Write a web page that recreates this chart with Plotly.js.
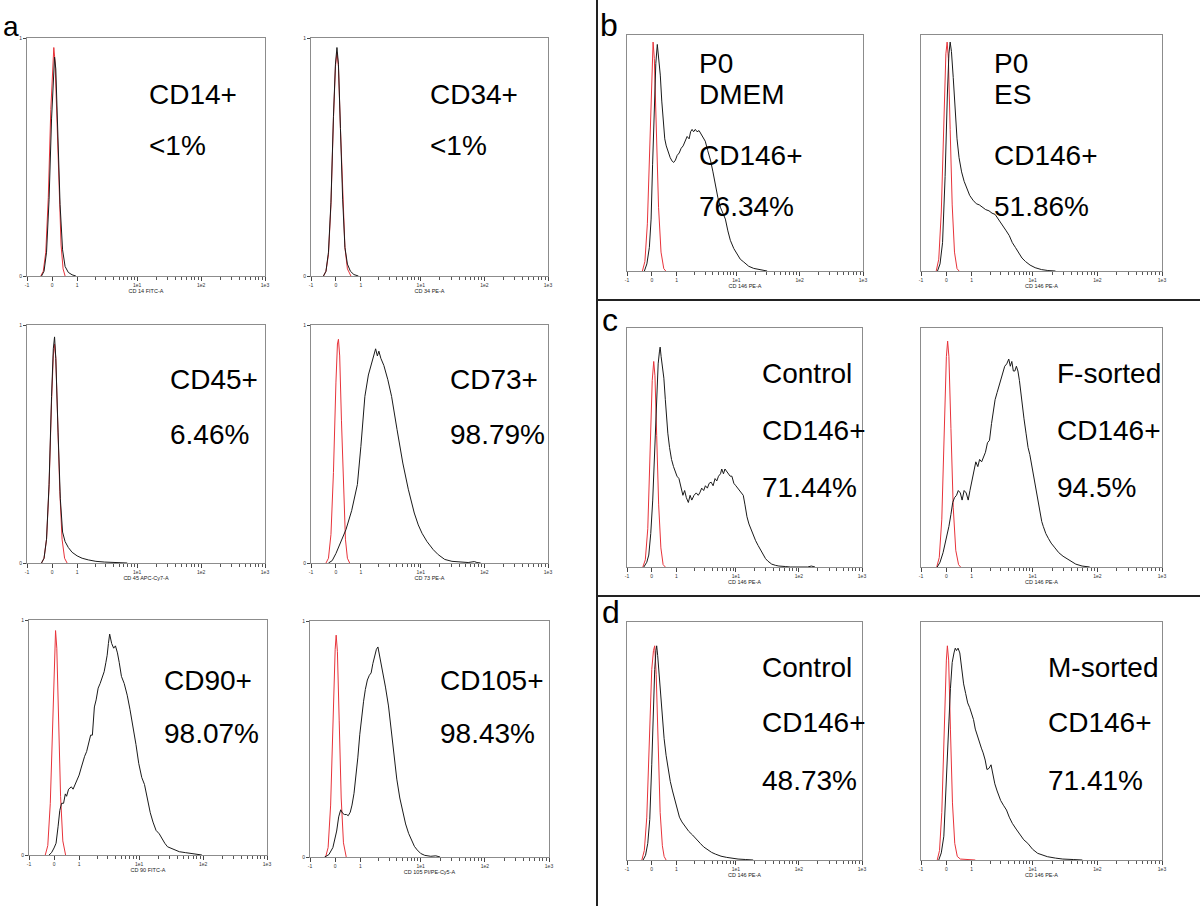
<!DOCTYPE html>
<html>
<head>
<meta charset="utf-8">
<script src="https://cdn.plot.ly/plotly-3.0.1.min.js"></script>
<style>html,body{margin:0;padding:0;background:#fff;}#chart{width:1200px;height:906px;}</style>
</head>
<body>
<div id="chart"></div>
<script>
// ---- Axis ticks (biexponential display scale) ----
const tickLabels = ['-1', '0', '1', '1e1', '1e2', '1e3'];
const tickPos = [-1, 0, 1, 3.4, 5.95, 8.5];
const xRange = [-1, 8.5];

// ---- Panel labels ----
const panelTitles = ['CD 14 FITC-A', 'CD 34 PE-A', 'CD 45 APC-Cy7-A', 'CD 73 PE-A', 'CD 90 FITC-A', 'CD 105 PI/PE-Cy5-A',
  'CD 146 PE-A', 'CD 146 PE-A', 'CD 146 PE-A', 'CD 146 PE-A', 'CD 146 PE-A', 'CD 146 PE-A'];
const panelText = [
  ['CD14+', '<1%'], ['CD34+', '<1%'], ['CD45+', '6.46%'], ['CD73+', '98.79%'], ['CD90+', '98.07%'], ['CD105+', '98.43%'],
  ['P0', 'DMEM', 'CD146+', '76.34%'], ['P0', 'ES', 'CD146+', '51.86%'],
  ['Control', 'CD146+', '71.44%'], ['F-sorted', 'CD146+', '94.5%'],
  ['Control', 'CD146+', '48.73%'], ['M-sorted', 'CD146+', '71.41%']
];
const sectionLetters = ['a', 'b', 'c', 'd'];

// ---- Histogram data: [display position, normalized count] ----
const CD14_iso = [[-0.45,0],[-0.35,0.02],[-0.25,0.1],[-0.15,0.33],[-0.05,0.7],[0.02,0.9],[0.07,0.96],[0.12,0.9],[0.2,0.64],[0.28,0.34],[0.36,0.13],[0.44,0.03],[0.52,0]];
const CD14_stain = [[-0.42,0],[-0.32,0.02],[-0.22,0.1],[-0.12,0.32],[-0.02,0.66],[0.05,0.86],[0.1,0.92],[0.15,0.87],[0.23,0.6],[0.32,0.3],[0.42,0.11],[0.52,0.04],[0.65,0.015],[0.8,0.005],[0.95,0]];

const CD34_iso = [[-0.5,0],[-0.4,0.02],[-0.3,0.09],[-0.2,0.3],[-0.1,0.66],[-0.02,0.88],[0.04,0.94],[0.1,0.88],[0.18,0.62],[0.27,0.33],[0.36,0.12],[0.46,0.03],[0.6,0]];
const CD34_stain = [[-0.5,0],[-0.4,0.02],[-0.3,0.1],[-0.2,0.31],[-0.1,0.67],[-0.02,0.89],[0.04,0.96],[0.1,0.89],[0.18,0.62],[0.27,0.32],[0.36,0.12],[0.46,0.05],[0.58,0.02],[0.72,0.006],[0.9,0]];

const CD45_iso = [[-0.42,0],[-0.32,0.02],[-0.22,0.1],[-0.12,0.32],[-0.02,0.68],[0.05,0.87],[0.1,0.92],[0.15,0.86],[0.23,0.58],[0.31,0.3],[0.4,0.1],[0.5,0.02],[0.6,0]];
const CD45_stain = [[-0.42,0],[-0.32,0.02],[-0.22,0.1],[-0.12,0.33],[-0.02,0.7],[0.05,0.9],[0.1,0.95],[0.15,0.86],[0.24,0.55],[0.33,0.27],[0.42,0.13],[0.52,0.09],[0.65,0.065],[0.8,0.045],[1.0,0.03],[1.2,0.02],[1.45,0.013],[1.75,0.007],[2.1,0.004],[2.5,0.001],[3.0,0]];

const CD73_iso = [[-0.4,0],[-0.3,0.02],[-0.2,0.12],[-0.1,0.38],[0,0.76],[0.06,0.92],[0.1,0.94],[0.15,0.87],[0.22,0.6],[0.3,0.3],[0.38,0.1],[0.46,0.02],[0.55,0]];
const CD73_stain = [[-0.3,0],[-0.15,0.01],[0,0.04],[0.17,0.08],[0.4,0.14],[0.63,0.22],[0.86,0.33],[1.0,0.49],[1.16,0.7],[1.3,0.79],[1.45,0.85],[1.52,0.88],[1.59,0.9],[1.66,0.87],[1.72,0.89],[1.8,0.86],[1.92,0.83],[2.08,0.77],[2.23,0.7],[2.45,0.56],[2.68,0.42],[2.9,0.31],[3.14,0.21],[3.3,0.16],[3.45,0.125],[3.65,0.09],[3.9,0.056],[4.1,0.035],[4.36,0.015],[4.65,0.007],[4.97,0.004],[5.3,0.002],[5.55,0.006],[5.65,0.002],[5.8,0]];

const CD90_iso = [[-0.35,0],[-0.25,0.04],[-0.15,0.22],[-0.05,0.62],[0.02,0.9],[0.06,0.955],[0.11,0.88],[0.18,0.58],[0.26,0.25],[0.35,0.06],[0.46,0]];
const CD90_stain = [[-0.2,0],[-0.1,0.01],[0,0.03],[0.08,0.05],[0.16,0.12],[0.23,0.19],[0.3,0.22],[0.38,0.22],[0.45,0.26],[0.5,0.25],[0.58,0.28],[0.69,0.29],[0.76,0.28],[0.84,0.3],[0.92,0.32],[1.0,0.34],[1.08,0.37],[1.15,0.4],[1.22,0.42],[1.3,0.44],[1.38,0.47],[1.46,0.51],[1.53,0.51],[1.61,0.63],[1.68,0.66],[1.76,0.71],[1.84,0.73],[1.92,0.76],[2.0,0.78],[2.07,0.82],[2.12,0.85],[2.17,0.9],[2.22,0.94],[2.3,0.9],[2.38,0.88],[2.45,0.89],[2.53,0.86],[2.6,0.82],[2.69,0.76],[2.8,0.73],[2.92,0.68],[3.03,0.62],[3.15,0.55],[3.27,0.47],[3.38,0.39],[3.5,0.33],[3.61,0.3],[3.72,0.24],[3.84,0.18],[3.95,0.14],[4.07,0.105],[4.2,0.09],[4.3,0.07],[4.42,0.05],[4.53,0.035],[4.75,0.025],[5.0,0.014],[5.25,0.01],[5.46,0.007],[5.7,0.003],[5.9,0]];

const CD105_iso = [[-0.38,0],[-0.28,0.04],[-0.18,0.22],[-0.08,0.62],[0,0.88],[0.04,0.94],[0.09,0.87],[0.16,0.58],[0.24,0.25],[0.33,0.06],[0.44,0]];
const CD105_stain = [[-0.42,0],[-0.25,0.01],[-0.09,0.04],[0.0,0.08],[0.06,0.11],[0.14,0.17],[0.22,0.2],[0.3,0.185],[0.37,0.18],[0.45,0.18],[0.52,0.175],[0.6,0.19],[0.67,0.22],[0.75,0.27],[0.82,0.33],[0.9,0.42],[0.98,0.52],[1.05,0.6],[1.13,0.66],[1.2,0.71],[1.28,0.75],[1.36,0.77],[1.43,0.78],[1.5,0.82],[1.58,0.86],[1.64,0.88],[1.7,0.89],[1.77,0.85],[1.83,0.82],[1.89,0.79],[2.0,0.72],[2.12,0.64],[2.23,0.53],[2.34,0.42],[2.45,0.33],[2.57,0.25],[2.68,0.19],[2.8,0.14],[2.92,0.1],[3.03,0.07],[3.15,0.045],[3.26,0.03],[3.4,0.015],[3.56,0.007],[3.8,0.003],[4.0,0.005],[4.17,0]];

const P0DMEM_iso = [[-0.38,0],[-0.28,0.04],[-0.18,0.2],[-0.08,0.58],[0,0.88],[0.05,0.97],[0.1,0.9],[0.18,0.6],[0.27,0.27],[0.37,0.08],[0.48,0.01],[0.56,0]];
const P0DMEM_stain = [[-0.3,0],[-0.2,0.03],[-0.1,0.1],[-0.03,0.22],[0.03,0.45],[0.1,0.72],[0.16,0.88],[0.22,0.96],[0.28,0.9],[0.34,0.83],[0.4,0.72],[0.46,0.62],[0.52,0.56],[0.58,0.53],[0.66,0.5],[0.74,0.48],[0.82,0.465],[0.88,0.46],[0.95,0.47],[1.02,0.49],[1.1,0.5],[1.18,0.52],[1.26,0.53],[1.34,0.55],[1.42,0.57],[1.5,0.56],[1.56,0.59],[1.62,0.6],[1.68,0.59],[1.75,0.6],[1.82,0.59],[1.9,0.595],[1.98,0.58],[2.06,0.57],[2.15,0.55],[2.25,0.51],[2.36,0.47],[2.46,0.42],[2.56,0.36],[2.66,0.31],[2.76,0.27],[2.86,0.245],[2.96,0.22],[3.06,0.17],[3.16,0.13],[3.3,0.095],[3.43,0.07],[3.56,0.05],[3.7,0.038],[3.9,0.02],[4.1,0.011],[4.37,0.004],[4.64,0]];

const P0ES_iso = [[-0.4,0],[-0.3,0.05],[-0.2,0.25],[-0.1,0.65],[-0.02,0.92],[0.03,0.97],[0.08,0.9],[0.15,0.6],[0.23,0.28],[0.32,0.08],[0.42,0.01],[0.5,0]];
const P0ES_stain = [[-0.35,0],[-0.25,0.03],[-0.15,0.12],[-0.05,0.4],[0.04,0.75],[0.1,0.92],[0.15,0.97],[0.2,0.93],[0.27,0.82],[0.34,0.68],[0.42,0.56],[0.5,0.48],[0.6,0.42],[0.7,0.38],[0.8,0.35],[0.92,0.32],[1.05,0.3],[1.18,0.285],[1.3,0.28],[1.42,0.27],[1.55,0.26],[1.68,0.255],[1.8,0.245],[1.92,0.24],[2.02,0.225],[2.12,0.21],[2.24,0.19],[2.36,0.17],[2.48,0.15],[2.6,0.12],[2.72,0.1],[2.85,0.075],[2.98,0.055],[3.12,0.04],[3.3,0.025],[3.5,0.014],[3.75,0.006],[4.0,0.002],[4.3,0]];

const Fcontrol_iso = [[-0.36,0],[-0.26,0.03],[-0.16,0.16],[-0.06,0.5],[0.02,0.78],[0.08,0.86],[0.13,0.8],[0.2,0.55],[0.28,0.26],[0.37,0.08],[0.46,0.01],[0.55,0]];
const Fcontrol_stain = [[-0.32,0],[-0.2,0.02],[-0.12,0.05],[-0.04,0.14],[0.04,0.28],[0.12,0.5],[0.19,0.71],[0.26,0.85],[0.31,0.9],[0.34,0.92],[0.38,0.88],[0.43,0.84],[0.49,0.79],[0.55,0.7],[0.6,0.62],[0.65,0.56],[0.72,0.5],[0.8,0.45],[0.88,0.42],[0.95,0.4],[1.02,0.38],[1.1,0.37],[1.18,0.33],[1.26,0.3],[1.33,0.32],[1.4,0.29],[1.48,0.27],[1.55,0.3],[1.62,0.28],[1.71,0.3],[1.8,0.31],[1.88,0.3],[1.94,0.31],[2.02,0.33],[2.1,0.32],[2.17,0.34],[2.25,0.33],[2.32,0.35],[2.4,0.355],[2.48,0.34],[2.56,0.37],[2.63,0.36],[2.7,0.38],[2.78,0.39],[2.83,0.41],[2.9,0.39],[2.96,0.41],[3.02,0.4],[3.1,0.39],[3.17,0.38],[3.24,0.38],[3.32,0.35],[3.4,0.34],[3.47,0.33],[3.55,0.32],[3.62,0.31],[3.7,0.3],[3.77,0.26],[3.85,0.21],[3.93,0.18],[4.0,0.16],[4.08,0.14],[4.2,0.11],[4.3,0.09],[4.38,0.074],[4.5,0.05],[4.6,0.035],[4.69,0.025],[4.85,0.012],[5.0,0.007],[5.14,0.004],[5.4,0.002],[5.6,0],[6.3,0],[6.45,0.004],[6.6,0]];

const Fsorted_iso = [[-0.38,0],[-0.28,0.04],[-0.18,0.2],[-0.08,0.6],[0.0,0.88],[0.05,0.945],[0.1,0.88],[0.18,0.58],[0.27,0.25],[0.37,0.07],[0.48,0.01],[0.56,0]];
const Fsorted_stain = [[-0.36,0],[-0.25,0.02],[-0.13,0.06],[-0.02,0.11],[0.1,0.17],[0.18,0.22],[0.25,0.27],[0.32,0.29],[0.4,0.3],[0.47,0.32],[0.55,0.31],[0.62,0.28],[0.7,0.32],[0.78,0.31],[0.86,0.28],[0.93,0.32],[1.0,0.36],[1.08,0.4],[1.16,0.44],[1.24,0.42],[1.31,0.45],[1.39,0.44],[1.46,0.46],[1.54,0.48],[1.62,0.52],[1.7,0.53],[1.78,0.6],[1.85,0.66],[1.92,0.7],[2.0,0.73],[2.08,0.76],[2.15,0.79],[2.23,0.81],[2.3,0.84],[2.38,0.85],[2.46,0.87],[2.52,0.84],[2.58,0.86],[2.64,0.82],[2.7,0.82],[2.76,0.84],[2.82,0.82],[2.88,0.78],[2.94,0.72],[3.0,0.67],[3.06,0.62],[3.14,0.56],[3.22,0.5],[3.29,0.47],[3.37,0.42],[3.45,0.38],[3.52,0.34],[3.6,0.28],[3.68,0.23],[3.76,0.19],[3.82,0.17],[3.92,0.14],[4.02,0.12],[4.13,0.1],[4.28,0.08],[4.43,0.06],[4.6,0.045],[4.75,0.035],[4.89,0.025],[5.1,0.012],[5.35,0.004],[5.65,0]];

const Mcontrol_iso = [[-0.4,0],[-0.3,0.04],[-0.2,0.18],[-0.1,0.5],[0.0,0.8],[0.07,0.88],[0.12,0.9],[0.18,0.78],[0.26,0.45],[0.34,0.2],[0.43,0.06],[0.5,0.015],[0.58,0]];
const Mcontrol_stain = [[-0.35,0],[-0.25,0.02],[-0.16,0.07],[-0.08,0.17],[0.0,0.4],[0.06,0.62],[0.12,0.8],[0.17,0.88],[0.2,0.9],[0.24,0.86],[0.3,0.77],[0.35,0.69],[0.42,0.6],[0.5,0.51],[0.58,0.44],[0.66,0.38],[0.75,0.33],[0.84,0.29],[0.95,0.25],[1.05,0.21],[1.12,0.18],[1.22,0.16],[1.35,0.14],[1.5,0.12],[1.65,0.105],[1.8,0.09],[1.96,0.07],[2.1,0.055],[2.27,0.042],[2.42,0.032],[2.57,0.025],[2.8,0.016],[3.03,0.011],[3.25,0.007],[3.49,0.004],[3.8,0.002],[4.1,0]];

const Msorted_iso = [[-0.36,0],[-0.27,0.04],[-0.18,0.2],[-0.08,0.58],[0.0,0.84],[0.04,0.9],[0.09,0.84],[0.16,0.55],[0.24,0.24],[0.33,0.07],[0.43,0.015],[0.55,0.004],[0.8,0.002],[1.14,0]];
const Msorted_stain = [[-0.3,0],[-0.2,0.03],[-0.1,0.1],[-0.03,0.25],[0.04,0.42],[0.1,0.58],[0.16,0.72],[0.23,0.83],[0.3,0.87],[0.35,0.89],[0.4,0.88],[0.46,0.89],[0.53,0.87],[0.6,0.8],[0.68,0.74],[0.76,0.7],[0.84,0.66],[0.92,0.64],[0.99,0.62],[1.07,0.59],[1.14,0.55],[1.22,0.52],[1.3,0.49],[1.38,0.47],[1.45,0.45],[1.53,0.42],[1.6,0.38],[1.68,0.385],[1.76,0.4],[1.84,0.36],[1.91,0.32],[2.0,0.29],[2.07,0.27],[2.14,0.25],[2.25,0.23],[2.37,0.21],[2.48,0.18],[2.6,0.154],[2.75,0.13],[2.9,0.105],[3.05,0.085],[3.21,0.07],[3.4,0.045],[3.6,0.028],[3.8,0.02],[3.98,0.014],[4.3,0.008],[4.59,0.004],[5.0,0.002],[5.36,0]];

const isoCurves = [CD14_iso, CD34_iso, CD45_iso, CD73_iso, CD90_iso, CD105_iso, P0DMEM_iso, P0ES_iso, Fcontrol_iso, Fsorted_iso, Mcontrol_iso, Msorted_iso];
const stainCurves = [CD14_stain, CD34_stain, CD45_stain, CD73_stain, CD90_stain, CD105_stain, P0DMEM_stain, P0ES_stain, Fcontrol_stain, Fsorted_stain, Mcontrol_stain, Msorted_stain];

// ---- Layout geometry (pixels) ----
const W = 1200, H = 906;
const boxes = [
  [27, 265, 38, 276], [311, 548, 38, 276],
  [27, 265, 325, 563], [311, 548, 325, 563],
  [29, 267, 620, 855], [310, 549, 621, 857],
  [627, 863, 35, 271], [921, 1162, 35, 271],
  [627, 862, 328, 567], [921, 1162, 328, 567],
  [627, 862, 622, 860], [921, 1162, 622, 860]
];
const textLeft = [147, 428, 168, 448, 162, 438, 697, 992, 760, 1055, 760, 1046];
const textRows = [
  [95, 145], [95, 145], [380, 434], [380, 434], [680, 733], [680, 733],
  [63, 95, 155, 207], [63, 95, 155, 207],
  [373, 430, 487], [373, 430, 487], [667, 722, 780], [667, 722, 780]
];
const letterPos = [[1, 26], [598, 25], [600, 320], [600, 612]];

// minor ticks on log decades
function minorTicks() {
  const out = [];
  const segs = [[1, 3.4], [3.4, 5.95], [5.95, 8.5]];
  segs.forEach(([a, b]) => { for (let k = 2; k <= 9; k++) out.push(a + Math.log10(k) * (b - a)); });
  return out;
}
const minors = minorTicks();

const data = [];
const layout = {
  width: W, height: H, margin: {l: 0, r: 0, t: 0, b: 0},
  paper_bgcolor: '#fff', plot_bgcolor: '#fff', showlegend: false,
  font: {family: 'Liberation Sans, Arial, sans-serif', color: '#000'},
  annotations: [], shapes: []
};

boxes.forEach((b, i) => {
  const n = i + 1;
  const xa = 'xaxis' + (n === 1 ? '' : n), ya = 'yaxis' + (n === 1 ? '' : n);
  const xr = 'x' + (n === 1 ? '' : n), yr = 'y' + (n === 1 ? '' : n);
  const panelA = i < 6;
  layout[xa] = {
    domain: [b[0] / W, b[1] / W], anchor: yr, range: xRange, fixedrange: true,
    tickmode: 'array', tickvals: tickPos, ticktext: tickLabels,
    ticks: 'outside', ticklen: 4, tickwidth: 1, tickcolor: '#444',
    tickfont: {size: 5, color: '#333'},
    minor: {tickvals: minors, ticks: 'outside', ticklen: 2.5, tickcolor: '#555', tickwidth: 1},
    showline: true, mirror: true, linecolor: '#8c8c8c', linewidth: 1,
    showgrid: false, zeroline: false,
    title: {text: panelTitles[i], font: {size: 5.5, color: '#222'}, standoff: 2}
  };
  layout[ya] = {
    domain: [1 - b[3] / H, 1 - b[2] / H], anchor: xr, range: [0, 1], fixedrange: true,
    tickmode: 'array', tickvals: panelA ? [0, 1] : [], ticktext: ['0', '1'],
    ticks: panelA ? 'outside' : '', ticklen: 3, tickcolor: '#444',
    showticklabels: panelA, tickfont: {size: 5, color: '#333'},
    showline: true, mirror: true, linecolor: '#8c8c8c', linewidth: 1,
    showgrid: false, zeroline: false
  };
  data.push({
    type: 'scatter', mode: 'lines', xaxis: xr, yaxis: yr,
    x: isoCurves[i].map(p => p[0]), y: isoCurves[i].map(p => p[1]),
    line: {color: '#e8333a', width: 1}, hoverinfo: 'skip'
  });
  data.push({
    type: 'scatter', mode: 'lines', xaxis: xr, yaxis: yr,
    x: stainCurves[i].map(p => p[0]), y: stainCurves[i].map(p => p[1]),
    line: {color: '#1a1a1a', width: 1}, hoverinfo: 'skip'
  });
  panelText[i].forEach((t, j) => {
    layout.annotations.push({
      xref: 'paper', yref: 'paper', x: textLeft[i] / W, y: 1 - textRows[i][j] / H,
      xanchor: 'left', yanchor: 'middle', showarrow: false, text: t,
      font: {size: 28, color: '#000', family: 'Liberation Sans, Arial, sans-serif'}
    });
  });
});

sectionLetters.forEach((s, k) => {
  layout.annotations.push({
    xref: 'paper', yref: 'paper', x: letterPos[k][0] / W, y: 1 - letterPos[k][1] / H,
    xanchor: 'left', yanchor: 'middle', showarrow: false, text: s,
    font: {size: k === 0 ? 28 : 32, color: '#000', family: 'Liberation Sans, Arial, sans-serif'}
  });
});

// section dividers
layout.shapes.push({type: 'line', xref: 'paper', yref: 'paper', x0: 597 / W, x1: 597 / W, y0: 0, y1: 1, line: {color: '#222', width: 2}});
layout.shapes.push({type: 'line', xref: 'paper', yref: 'paper', x0: 597 / W, x1: 1, y0: 1 - 300 / H, y1: 1 - 300 / H, line: {color: '#222', width: 2}});
layout.shapes.push({type: 'line', xref: 'paper', yref: 'paper', x0: 597 / W, x1: 1, y0: 1 - 596 / H, y1: 1 - 596 / H, line: {color: '#222', width: 2}});

Plotly.newPlot('chart', data, layout, {displayModeBar: false, staticPlot: true});
</script>
</body>
</html>
